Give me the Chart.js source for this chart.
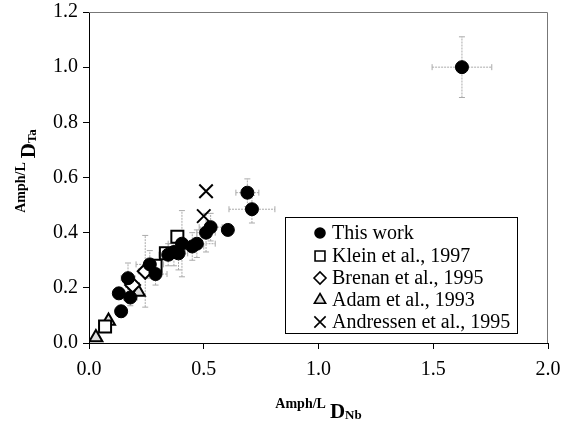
<!DOCTYPE html>
<html>
<head>
<meta charset="utf-8">
<script src="https://cdn.jsdelivr.net/npm/chart.js@4/dist/chart.umd.min.js"></script>
<style>
  html, body { margin: 0; padding: 0; background: #fff; }
  #wrap { width: 574px; height: 426px; }
</style>
</head>
<body>
<div id="wrap"><canvas id="dChart" width="574" height="426"></canvas></div>
<script>
// ===== Datos =====
const xTicks = [0.0, 0.5, 1.0, 1.5, 2.0];
const yTicks = [0.0, 0.2, 0.4, 0.6, 0.8, 1.0, 1.2];

const thisWorkX    = [0.13, 0.14, 0.17, 0.18, 0.265, 0.29, 0.345, 0.37, 0.39, 0.405, 0.45, 0.47, 0.51, 0.53, 0.605, 0.69, 0.71, 1.625];
const thisWorkY    = [0.18, 0.115, 0.235, 0.165, 0.285, 0.25, 0.32, 0.33, 0.325, 0.36, 0.35, 0.36, 0.40, 0.42, 0.41, 0.545, 0.485, 1.00];
const thisWorkXErr = [0.02, 0.02, 0.03, 0.03, 0.06, 0.05, 0.04, 0.05, 0.04, 0.06, 0.05, 0.08, 0.04, 0.05, 0, 0.05, 0.10, 0.13];
const thisWorkYErr = [0.02, 0.02, 0.055, 0.03, 0.05, 0.04, 0.04, 0.05, 0.06, 0.12, 0.05, 0.05, 0.07, 0.05, 0, 0.05, 0.05, 0.11];

const kleinX = [0.07, 0.29, 0.335, 0.385];
const kleinY = [0.06, 0.28, 0.325, 0.385];

const brenanX    = [0.19, 0.245];
const brenanY    = [0.21, 0.26];
const brenanXErr = [0.03, 0.03];
const brenanYErr = [0.03, 0.13];

const adamX = [0.03, 0.085, 0.215];
const adamY = [0.02, 0.08, 0.185];

const andressenX = [0.50, 0.51];
const andressenY = [0.46, 0.55];

const seriesNames = ['This work', 'Klein et al., 1997', 'Brenan et al., 1995', 'Adam et al., 1993', 'Andressen et al., 1995'];

// ===== Utilidades =====
const SERIF = '"Liberation Serif", "Times New Roman", serif';

function toPoints(xs, ys) {
  return xs.map((x, i) => ({ x: x, y: ys[i] }));
}

// Barras de error (gris punteado) usando las escalas de Chart.js
const errorBars = {
  id: 'errorBars',
  beforeDatasetsDraw(chart) {
    const { ctx, scales: { x, y } } = chart;
    ctx.save();
    ctx.strokeStyle = '#aaaaaa';
    ctx.lineWidth = 1;
    chart.data.datasets.forEach(ds => {
      if (!ds.xErr && !ds.yErr) return;
      ds.data.forEach((p, i) => {
        const px = x.getPixelForValue(p.x);
        const py = y.getPixelForValue(p.y);
        const ex = ds.xErr ? ds.xErr[i] : 0;
        const ey = ds.yErr ? ds.yErr[i] : 0;
        ctx.setLineDash([2, 1]);
        if (ex > 0) {
          const x1 = x.getPixelForValue(p.x - ex), x2 = x.getPixelForValue(p.x + ex);
          ctx.beginPath(); ctx.moveTo(x1, py); ctx.lineTo(x2, py); ctx.stroke();
          ctx.setLineDash([]);
          ctx.beginPath();
          ctx.moveTo(x1, py - 3); ctx.lineTo(x1, py + 3);
          ctx.moveTo(x2, py - 3); ctx.lineTo(x2, py + 3);
          ctx.stroke();
          ctx.setLineDash([2, 1]);
        }
        if (ey > 0) {
          const y1 = y.getPixelForValue(p.y - ey), y2 = y.getPixelForValue(p.y + ey);
          ctx.beginPath(); ctx.moveTo(px, y1); ctx.lineTo(px, y2); ctx.stroke();
          ctx.setLineDash([]);
          ctx.beginPath();
          ctx.moveTo(px - 3, y1); ctx.lineTo(px + 3, y1);
          ctx.moveTo(px - 3, y2); ctx.lineTo(px + 3, y2);
          ctx.stroke();
        }
      });
    });
    ctx.restore();
  }
};

// Marco superior/derecho, títulos de ejes y leyenda con recuadro
const decor = {
  id: 'decor',
  afterDraw(chart) {
    const { ctx, chartArea: a } = chart;
    ctx.save();

    // marco
    ctx.strokeStyle = '#777';
    ctx.lineWidth = 1;
    ctx.beginPath();
    ctx.moveTo(a.left, a.top + 0.5);
    ctx.lineTo(a.right - 0.5, a.top + 0.5);
    ctx.lineTo(a.right - 0.5, a.bottom);
    ctx.stroke();

    // títulos:  Amph/L D_Nb  y  Amph/L D_Ta
    const drawTitle = (sub) => {
      const parts = [
        { t: 'Amph/L', f: 'bold 14px ' + SERIF, dy: -10 },
        { t: 'D',      f: 'bold 21px ' + SERIF, dy: 0, gap: 4 },
        { t: sub,      f: 'bold 13px ' + SERIF, dy: 1 }
      ];
      let total = 0;
      parts.forEach(p => { ctx.font = p.f; p.w = ctx.measureText(p.t).width; total += p.w + (p.gap || 0); });
      let cx = -total / 2;
      ctx.fillStyle = '#000';
      ctx.textBaseline = 'alphabetic';
      ctx.textAlign = 'left';
      parts.forEach(p => {
        cx += (p.gap || 0);
        ctx.font = p.f;
        ctx.fillText(p.t, cx, p.dy);
        cx += p.w;
      });
    };
    ctx.save();
    ctx.translate((a.left + a.right) / 2, 418);
    drawTitle('Nb');
    ctx.restore();
    ctx.save();
    ctx.translate(35, 171);
    ctx.rotate(-Math.PI / 2);
    drawTitle('Ta');
    ctx.restore();

    // leyenda
    const bx = 285.5, by = 217.5, bw = 232, bh = 116;
    ctx.fillStyle = '#fff';
    ctx.fillRect(bx, by, bw, bh);
    ctx.strokeStyle = '#000';
    ctx.lineWidth = 1;
    ctx.strokeRect(bx, by, bw, bh);
    const rowY = [233, 256, 278, 300, 322];
    ctx.font = '20px ' + SERIF;
    ctx.textBaseline = 'middle';
    chart.data.datasets.forEach((ds, i) => {
      const opts = {
        pointStyle: ds.pointStyle,
        radius: ds.legendRadius,
        rotation: 0,
        borderWidth: 1.6
      };
      ctx.fillStyle = ds.backgroundColor;
      ctx.strokeStyle = '#000';
      ctx.lineWidth = 1.6;
      Chart.helpers.drawPoint(ctx, opts, 320, rowY[i]);
      ctx.fillStyle = '#000';
      ctx.fillText(seriesNames[i], 332, rowY[i] + 1);
    });

    ctx.restore();
  }
};

const datasets = [
  { label: seriesNames[0], data: toPoints(thisWorkX, thisWorkY), xErr: thisWorkXErr, yErr: thisWorkYErr,
    pointStyle: 'circle', pointRadius: 6.5, backgroundColor: '#000', borderColor: '#000', borderWidth: 1, legendRadius: 5 },
  { label: seriesNames[1], data: toPoints(kleinX, kleinY),
    pointStyle: 'rect', pointRadius: 8.5, backgroundColor: '#fff', borderColor: '#000', borderWidth: 2, legendRadius: 7 },
  { label: seriesNames[2], data: toPoints(brenanX, brenanY), xErr: brenanXErr, yErr: brenanYErr,
    pointStyle: 'rectRot', pointRadius: 7.5, backgroundColor: '#fff', borderColor: '#000', borderWidth: 2, legendRadius: 6 },
  { label: seriesNames[3], data: toPoints(adamX, adamY),
    pointStyle: 'triangle', pointRadius: 7.5, backgroundColor: '#ddd', borderColor: '#000', borderWidth: 2, legendRadius: 6.5 },
  { label: seriesNames[4], data: toPoints(andressenX, andressenY),
    pointStyle: 'crossRot', pointRadius: 9.5, backgroundColor: '#000', borderColor: '#000', borderWidth: 2, legendRadius: 8 }
];

const tickFont = { family: SERIF, size: 20 };

new Chart(document.getElementById('dChart').getContext('2d'), {
  type: 'scatter',
  data: { datasets: datasets },
  options: {
    responsive: false,
    animation: false,
    events: [],
    layout: { padding: { top: 12, right: 26, left: 0, bottom: 0 } },
    plugins: { legend: { display: false }, tooltip: { enabled: false } },
    scales: {
      x: {
        type: 'linear', min: xTicks[0], max: xTicks[xTicks.length - 1],
        afterBuildTicks: s => { s.ticks = xTicks.map(v => ({ value: v })); },
        afterFit: s => { s.height = 83; s.paddingLeft = 0; s.paddingRight = 0; },
        ticks: { font: tickFont, color: '#000', padding: 9, maxRotation: 0, callback: v => Number(v).toFixed(1) },
        grid: { drawOnChartArea: false, drawTicks: true, tickLength: 6, color: '#000' },
        border: { color: '#000', width: 1 }
      },
      y: {
        type: 'linear', min: yTicks[0], max: yTicks[yTicks.length - 1],
        afterBuildTicks: s => { s.ticks = yTicks.map(v => ({ value: v })); },
        afterFit: s => { s.width = 89; s.paddingTop = 0; s.paddingBottom = 0; },
        ticks: { font: tickFont, color: '#000', padding: 5, callback: v => Number(v).toFixed(1) },
        grid: { drawOnChartArea: false, drawTicks: true, tickLength: 6, color: '#000' },
        border: { color: '#000', width: 1 }
      }
    }
  },
  plugins: [errorBars, decor]
});
</script>
</body>
</html>
